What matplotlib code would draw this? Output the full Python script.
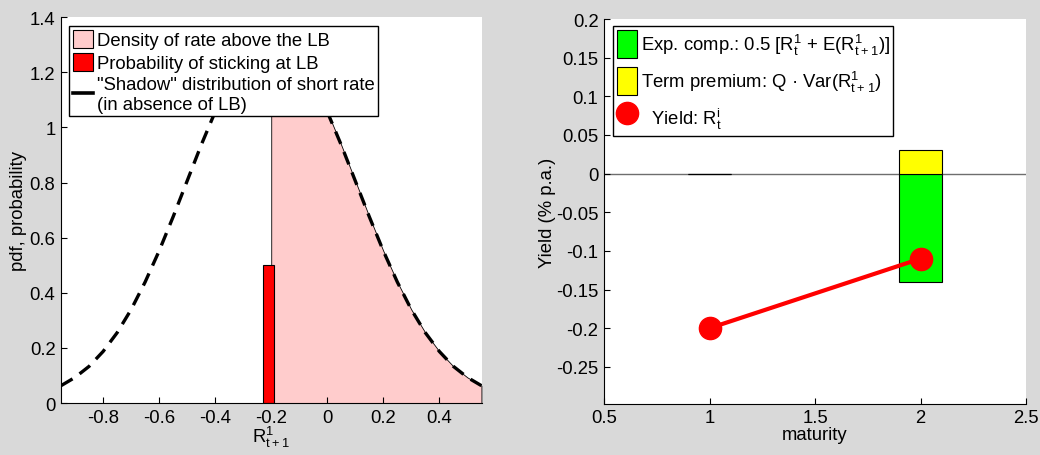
import matplotlib
import numpy as np

matplotlib.use("Agg")
import matplotlib.pyplot as plt  # noqa: E402
from matplotlib.lines import Line2D  # noqa: E402
from matplotlib.patches import Patch  # noqa: E402

plt.rcParams["font.family"] = ["Liberation Sans", "DejaVu Sans"]
plt.rcParams["mathtext.default"] = "regular"
plt.rcParams["axes.unicode_minus"] = False

# --- datos ---
# densidad "shadow" del tipo corto (sin cota inferior)
r_grid = np.array([-0.95, -0.90, -0.85, -0.80, -0.75, -0.70, -0.65, -0.60, -0.55,
                   -0.50, -0.45, -0.40, -0.35, -0.30, -0.25, -0.20, -0.15, -0.10,
                   -0.05, 0.00, 0.05, 0.10, 0.15, 0.20, 0.25, 0.30, 0.35, 0.40,
                   0.45, 0.50, 0.55])
pdf_shadow = np.array([0.063, 0.093, 0.133, 0.187, 0.255, 0.339, 0.439, 0.552, 0.676,
                       0.806, 0.936, 1.057, 1.162, 1.243, 1.294, 1.312, 1.294, 1.243,
                       1.162, 1.057, 0.936, 0.806, 0.676, 0.552, 0.439, 0.339, 0.255,
                       0.187, 0.133, 0.093, 0.063])
lb = -0.20
p_stick = 0.5
lb_bar_x = -0.21

# descomposición del rendimiento
maturity = [1, 2]
exp_comp = [0.0, -0.14]
term_prem = [0.0, 0.03]
yld = [-0.20, -0.11]

BG = "#d9d9d9"
FS = 13.3

fig = plt.figure(figsize=(10.4, 4.56), dpi=100, facecolor=BG)
a1 = fig.add_axes([0.0587, 0.114, 0.405, 0.846])
a2 = fig.add_axes([0.5808, 0.112, 0.4058, 0.844])

# ---- panel izquierdo ----
sel = r_grid >= lb
a1.fill_between(r_grid[sel], pdf_shadow[sel], 0, facecolor="#ffcccc",
                edgecolor="k", lw=0.6, zorder=1)
a1.bar(lb_bar_x, p_stick, width=0.04, color="#ff0000", edgecolor="k", lw=0.8, zorder=2)
a1.plot(r_grid, pdf_shadow, color="k", lw=2.4, dashes=(4, 2.6), zorder=3)
a1.set_xlim(-0.95, 0.553)
a1.set_ylim(0, 1.4)
a1.set_xticks([-0.8, -0.6, -0.4, -0.2, 0, 0.2, 0.4])
a1.set_xticklabels(["-0.8", "-0.6", "-0.4", "-0.2", "0", "0.2", "0.4"])
a1.set_yticks([0, 0.2, 0.4, 0.6, 0.8, 1.0, 1.2, 1.4])
a1.set_yticklabels(["0", "0.2", "0.4", "0.6", "0.8", "1", "1.2", "1.4"])
a1.set_xlabel("$R^1_{t+1}$", fontsize=FS, labelpad=-1)
a1.set_ylabel("pdf, probability", fontsize=FS, labelpad=2)
h1 = [Patch(facecolor="#ffcccc", edgecolor="k", lw=0.8),
      Patch(facecolor="#ff0000", edgecolor="k", lw=0.8),
      Line2D([], [], color="k", lw=2.6)]
l1 = a1.legend(h1, ["Density of rate above the LB", "Probability of sticking at LB",
                    "\"Shadow\" distribution of short rate\n(in absence of LB)"],
               loc="upper left", bbox_to_anchor=(0.019, 0.977), borderaxespad=0,
               fontsize=FS, fancybox=False, framealpha=1, edgecolor="k",
               handlelength=1.1, handleheight=1.15, handletextpad=0.2,
               labelspacing=0.2, borderpad=0.2)
l1.get_frame().set_linewidth(1.0)

# ---- panel derecho ----
a2.axhline(0, color="#6e6e6e", lw=1.0, zorder=1)
a2.bar(maturity, exp_comp, width=0.2, color="#00ff00", edgecolor="k", lw=0.8, zorder=2)
a2.bar(maturity, term_prem, width=0.2, color="#ffff00", edgecolor="k", lw=0.8, zorder=2)
a2.plot(maturity, yld, "-o", color="#ff0000", lw=3, ms=16, zorder=3)
a2.set_xlim(0.5, 2.5)
a2.set_ylim(-0.298, 0.2)
a2.set_xticks([0.5, 1, 1.5, 2, 2.5])
a2.set_xticklabels(["0.5", "1", "1.5", "2", "2.5"])
a2.set_yticks([0.2, 0.15, 0.1, 0.05, 0, -0.05, -0.1, -0.15, -0.2, -0.25])
a2.set_yticklabels(["0.2", "0.15", "0.1", "0.05", "0", "-0.05", "-0.1", "-0.15",
                    "-0.2", "-0.25"])
a2.set_xlabel("maturity", fontsize=FS, labelpad=0)
a2.set_ylabel("Yield (% p.a.)", fontsize=FS, labelpad=0)
h2 = [Patch(facecolor="#00ff00", edgecolor="k", lw=0.8),
      Patch(facecolor="#ffff00", edgecolor="k", lw=0.8),
      Line2D([], [], color="#ff0000", marker="o", ms=16, lw=0)]
l2 = a2.legend(h2, ["Exp. comp.: 0.5 [$R^1_t$ + E($R^1_{t+1}$)]",
                    "Term premium: Q \u00b7 Var($R^1_{t+1}$)",
                    "  Yield: $R^i_t$"],
               loc="upper left", bbox_to_anchor=(0.021, 0.982), borderaxespad=0,
               fontsize=FS, fancybox=False, framealpha=1, edgecolor="k",
               handlelength=1.1, handleheight=2.0, handletextpad=0.2,
               labelspacing=0.45, borderpad=0.2)
l2.get_frame().set_linewidth(1.0)

for ax in (a1, a2):
    ax.spines["top"].set_visible(False)
    ax.spines["right"].set_visible(False)
    ax.tick_params(direction="in", length=4, labelsize=FS, pad=4)

fig.savefig("out.png", dpi=100, facecolor=BG)
plt.close(fig)
